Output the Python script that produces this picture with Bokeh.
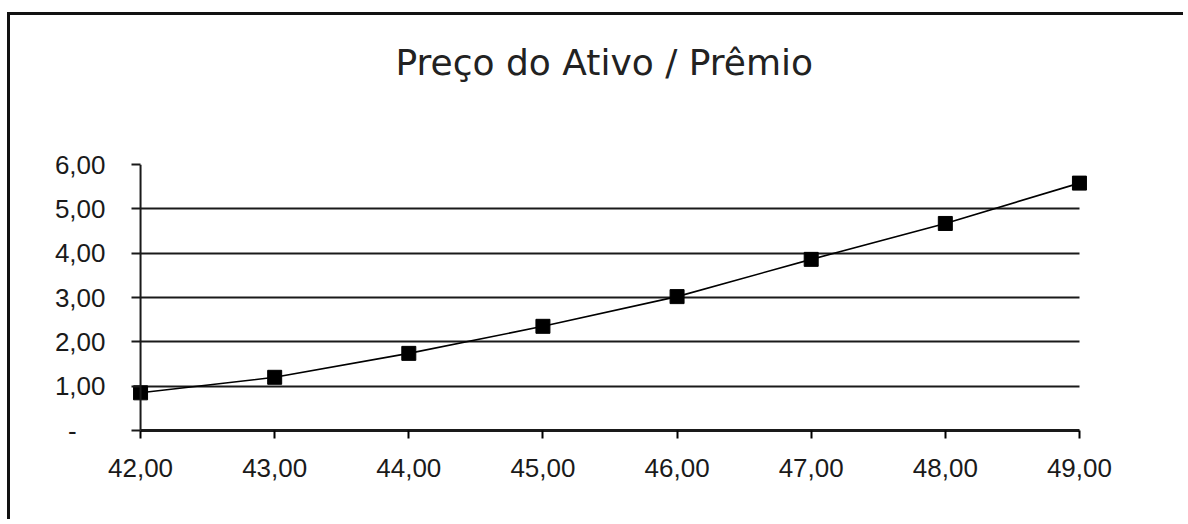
from bokeh.plotting import figure
from bokeh.models import FixedTicker, Title, Span
from bokeh.embed import file_html
from bokeh.resources import INLINE

# ---- data ----
strike = [42, 43, 44, 45, 46, 47, 48, 49]
premium = [0.85, 1.20, 1.74, 2.35, 3.02, 3.86, 4.67, 5.58]
x_tick_labels = ["42,00", "43,00", "44,00", "45,00", "46,00", "47,00", "48,00", "49,00"]
y_ticks = [0, 1, 2, 3, 4, 5, 6]
y_tick_labels = ["-\u00a0\u00a0\u00a0\u00a0", "1,00", "2,00", "3,00", "4,00", "5,00", "6,00"]
grid_ticks = [1, 2, 3, 4, 5]
title_text = "Preço do Ativo / Prêmio"

x_lo, x_hi = strike[0], strike[-1]
pad = 0.06  # keeps the edge markers from being clipped by the frame

p = figure(width=1176, height=507, x_range=(x_lo - pad, x_hi + pad), y_range=(0, 6),
           output_backend="svg", toolbar_location=None,
           min_border_left=122, min_border_right=99,
           min_border_top=149, min_border_bottom=92,
           title=title_text)

p.styles = {"margin-left": "7px", "margin-top": "12px",
            "border-left": "3px solid #111", "border-top": "3px solid #111"}

p.title.align = "left"
p.title.offset = 263
p.title.text_font = "DejaVu Sans"
p.title.text_font_size = "36px"
p.title.text_font_style = "normal"
p.title.text_color = "#222222"
p.title.standoff = 0

# spacer between title and plot area
p.add_layout(Title(text=" ", text_font_size="2px", standoff=78), "above")

p.outline_line_color = None
p.background_fill_color = "white"
p.border_fill_color = "white"

# grid
p.xgrid.visible = False
p.ygrid.ticker = FixedTicker(ticks=grid_ticks)
p.ygrid.cross_bounds = (x_lo, x_hi)
p.ygrid.grid_line_color = "#1a1a1a"
p.ygrid.grid_line_width = 2

# x axis
p.xaxis.ticker = FixedTicker(ticks=strike)
p.xaxis.bounds = (x_lo, x_hi)
p.xaxis.major_label_overrides = dict(zip(strike, x_tick_labels))
p.xaxis.axis_line_width = 3
p.xaxis.axis_line_color = "#1a1a1a"
p.xaxis.major_tick_in = 0
p.xaxis.major_tick_out = 8
p.xaxis.major_tick_line_width = 2
p.xaxis.minor_tick_line_color = None
p.xaxis.major_label_standoff = 20
p.xaxis.major_label_text_font = "Liberation Sans"
p.xaxis.major_label_text_font_size = "26px"
p.xaxis.major_label_text_color = "#1a1a1a"

# y axis (its line is drawn at the first strike by a span)
p.yaxis.ticker = FixedTicker(ticks=y_ticks)
p.yaxis.major_label_overrides = dict(zip(y_ticks, y_tick_labels))
p.yaxis.axis_line_color = None
p.yaxis.major_tick_in = 8
p.yaxis.major_tick_out = 1
p.yaxis.major_tick_line_width = 2
p.yaxis.major_tick_line_color = "#1a1a1a"
p.yaxis.minor_tick_line_color = None
p.yaxis.major_label_standoff = 26
p.yaxis.major_label_text_font = "Liberation Sans"
p.yaxis.major_label_text_font_size = "26px"
p.yaxis.major_label_text_color = "#1a1a1a"
p.add_layout(Span(location=x_lo, dimension="height", line_color="#1a1a1a", line_width=2))

# series
p.line(strike, premium, line_color="black", line_width=1.6)
p.scatter(strike, premium, marker="square", size=14, fill_color="black", line_color="black")

open("out.html", "w").write(file_html(p, INLINE))
